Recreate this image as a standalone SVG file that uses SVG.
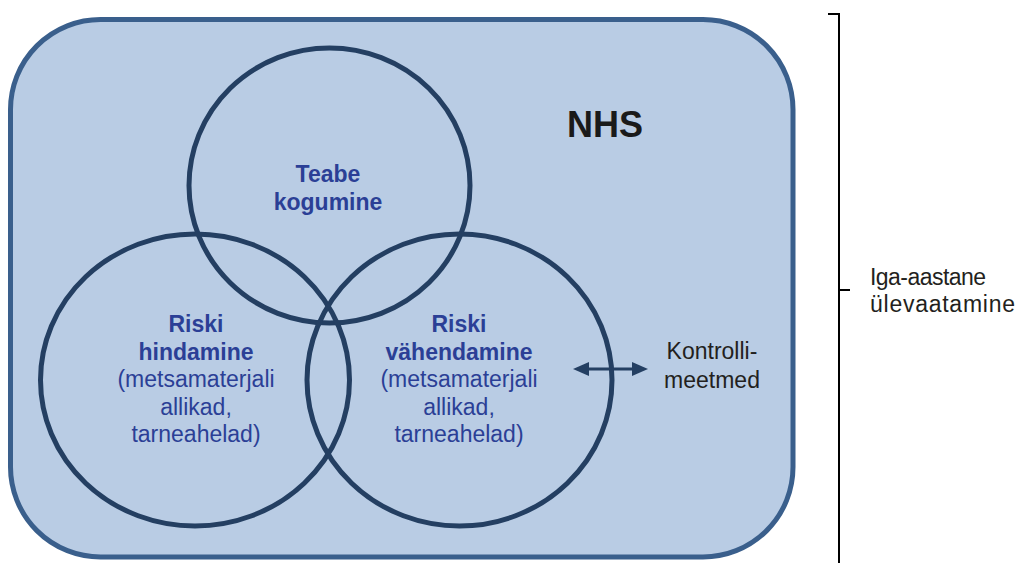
<svg xmlns="http://www.w3.org/2000/svg" width="1018" height="563" viewBox="0 0 1018 563">
  <style>
    .venn { fill: none; stroke: #243f62; stroke-width: 5; }
    .bold { font-family: "Liberation Sans", Arial, sans-serif; font-weight: bold; font-size: 23px; fill: #2b3f96; text-anchor: middle; }
    .reg { font-family: "Liberation Sans", Arial, sans-serif; font-size: 23px; fill: #2b3f96; text-anchor: middle; }
    .dark { font-family: "Liberation Sans", Arial, sans-serif; font-size: 23px; fill: #231f20; }
  </style>
  <defs>
    <marker id="ah" viewBox="0 0 16 14" refX="2" refY="7" markerWidth="16" markerHeight="14" markerUnits="userSpaceOnUse" orient="auto-start-reverse">
      <path d="M0,0 L16,7 L0,14 Z" fill="#243f62"/>
    </marker>
  </defs>
  <rect width="1018" height="563" fill="#ffffff"/>

  <g id="nhs">
    <rect x="10.5" y="19.5" width="782.5" height="537.5" rx="90" ry="90" fill="#b9cce4" stroke="#3a5f8c" stroke-width="5"/>
    <text x="567" y="137" font-family="Liberation Sans, Arial, sans-serif" font-weight="bold" font-size="36" fill="#1a1a1a">NHS</text>
  </g>

  <g id="teabe">
    <ellipse class="venn" cx="329.5" cy="185.5" rx="140.5" ry="137.5"/>
    <text class="bold" x="328" y="182">Teabe</text>
    <text class="bold" x="328" y="210">kogumine</text>
  </g>

  <g id="hindamine">
    <ellipse class="venn" cx="195" cy="380" rx="154.5" ry="146"/>
    <text class="bold" x="196" y="332">Riski</text>
    <text class="bold" x="196" y="359.5">hindamine</text>
    <text class="reg" x="196" y="387">(metsamaterjali</text>
    <text class="reg" x="196" y="414.5">allikad,</text>
    <text class="reg" x="196" y="442">tarneahelad)</text>
  </g>

  <g id="vahendamine">
    <ellipse class="venn" cx="459.5" cy="380" rx="152.5" ry="146"/>
    <text class="bold" x="459" y="332">Riski</text>
    <text class="bold" x="459" y="359.5">vähendamine</text>
    <text class="reg" x="459" y="387">(metsamaterjali</text>
    <text class="reg" x="459" y="414.5">allikad,</text>
    <text class="reg" x="459" y="442">tarneahelad)</text>
  </g>

  <g id="kontrollimeetmed">
    <text class="dark" x="712" y="359" text-anchor="middle">Kontrolli-</text>
    <text class="dark" x="712" y="388" text-anchor="middle">meetmed</text>
  </g>

  <g id="ulevaatamine">
    <text class="dark" x="870" y="285" textLength="116" lengthAdjust="spacing">Iga-aastane</text>
    <text class="dark" x="870" y="312" textLength="145" lengthAdjust="spacing">ülevaatamine</text>
  </g>

  <g id="connectors">
    <line x1="587" y1="369" x2="634" y2="369" stroke="#243f62" stroke-width="3" marker-start="url(#ah)" marker-end="url(#ah)"/>
    <path d="M828,14 H839 V563 M839,290 H850" fill="none" stroke="#000000" stroke-width="2"/>
  </g>
</svg>
